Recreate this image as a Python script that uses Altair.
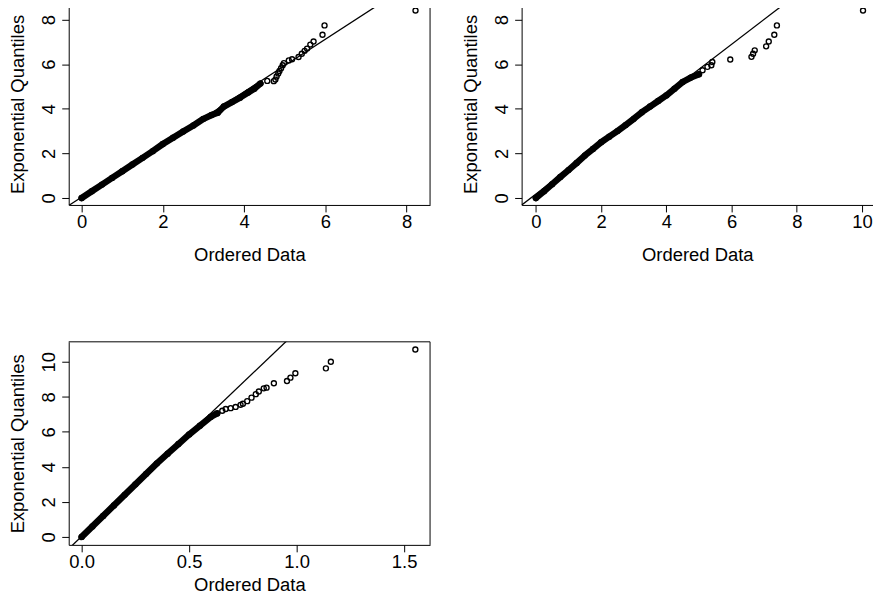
import altair as alt
import pandas as pd

# ---------------- data ----------------
# Panel 1 (top-left): dense part of the QQ band and the sparse upper tail
p1_band_x = [0.0, 0.25, 0.5, 0.75, 1.0, 1.25, 1.5, 1.75, 2.0, 2.25, 2.5, 2.75, 3.0, 3.2, 3.35, 3.5, 3.7, 3.9, 4.1, 4.25, 4.4]
p1_band_y = [0.0, 0.3, 0.6, 0.9, 1.2, 1.5, 1.8, 2.1, 2.42, 2.7, 2.98, 3.25, 3.55, 3.72, 3.82, 4.1, 4.3, 4.5, 4.73, 4.9, 5.13]
p1_tail_x = [4.57, 4.73, 4.77, 4.80, 4.84, 4.87, 4.91, 4.95, 4.98, 5.10, 5.18, 5.34, 5.42, 5.49, 5.55, 5.63, 5.71, 5.93, 5.98, 8.22]
p1_tail_y = [5.25, 5.24, 5.31, 5.45, 5.58, 5.70, 5.82, 5.95, 6.05, 6.17, 6.22, 6.32, 6.47, 6.60, 6.70, 6.88, 7.02, 7.32, 7.74, 8.41]
p1_line = [0.04, 1.18]  # intercept, slope of the reference line

# Panel 2 (top-right)
p2_band_x = [0.0, 0.25, 0.5, 0.75, 1.0, 1.25, 1.5, 1.75, 2.0, 2.25, 2.5, 2.75, 3.0, 3.25, 3.5, 3.75, 4.0, 4.25, 4.5, 4.75, 5.0]
p2_band_y = [0.0, 0.3, 0.62, 0.94, 1.25, 1.57, 1.9, 2.2, 2.5, 2.75, 3.0, 3.27, 3.55, 3.85, 4.1, 4.35, 4.6, 4.9, 5.2, 5.4, 5.55]
p2_tail_x = [5.11, 5.26, 5.38, 5.41, 5.96, 6.61, 6.66, 6.71, 7.06, 7.14, 7.31, 7.39, 10.03]
p2_tail_y = [5.73, 5.88, 5.95, 6.10, 6.21, 6.33, 6.47, 6.62, 6.80, 7.02, 7.32, 7.74, 8.41]
p2_line = [0.17, 1.12]

# Panel 3 (bottom-left)
p3_band_x = [0.0, 0.05, 0.1, 0.15, 0.2, 0.25, 0.3, 0.35, 0.4, 0.45, 0.5, 0.55, 0.6, 0.63]
p3_band_y = [0.0, 0.6, 1.2, 1.8, 2.4, 3.0, 3.6, 4.2, 4.75, 5.3, 5.85, 6.35, 6.85, 7.05]
p3_tail_x = [0.654, 0.67, 0.693, 0.716, 0.739, 0.75, 0.77, 0.79, 0.81, 0.824, 0.847, 0.86, 0.894, 0.955, 0.971, 0.994, 1.136, 1.159, 1.552]
p3_tail_y = [7.2, 7.3, 7.35, 7.42, 7.54, 7.6, 7.75, 7.95, 8.15, 8.30, 8.48, 8.52, 8.77, 8.90, 9.09, 9.34, 9.62, 10.0, 10.70]
p3_line = [0.03, 11.7]

x_title = "Ordered Data"
y_title = "Exponential Quantiles"

FONT = "Liberation Sans"
FS = 18.5


def panel(band_x, band_y, tail_x, tail_y, ab, xdom, ydom, xticks, yticks, xfmt,
          width, height, right_border=True, title_y=None, xtitle_y=56):
    band = pd.DataFrame({"x": band_x, "y": band_y})
    pts = pd.DataFrame({"x": band_x + tail_x, "y": band_y + tail_y})
    a, b = ab
    ldf = pd.DataFrame({"x": xdom, "y": [a + b * xdom[0], a + b * xdom[1]]})

    xs = alt.Scale(domain=xdom, nice=False, zero=False)
    ys = alt.Scale(domain=ydom, nice=False, zero=False)
    xax = alt.Axis(values=xticks, format=xfmt, title=x_title, grid=False,
                   tickSize=7, tickColor="black", tickWidth=1,
                   domain=True, domainColor="black", domainWidth=1,
                   labelFont=FONT, labelFontSize=FS, labelColor="black",
                   labelBaseline="alphabetic", labelPadding=16, labelFlush=False,
                   titleFont=FONT, titleFontSize=FS, titleFontWeight="normal",
                   titleColor="black", titleBaseline="alphabetic", titleY=xtitle_y)
    ykw = dict(values=yticks, format="d", title=y_title, grid=False,
               tickSize=7, tickColor="black", tickWidth=1,
               domain=True, domainColor="black", domainWidth=1,
               labelFont=FONT, labelFontSize=FS, labelColor="black",
               labelAngle=270, labelAlign="center", labelBaseline="alphabetic",
               labelPadding=7, labelFlush=False,
               titleFont=FONT, titleFontSize=FS, titleFontWeight="normal",
               titleColor="black", titleAngle=270, titleAlign="center",
               titleBaseline="alphabetic", titleX=-45.5)
    if title_y is not None:
        ykw["titleY"] = title_y
    yax = alt.Axis(**ykw)
    X = alt.X("x:Q", scale=xs, axis=xax)
    Y = alt.Y("y:Q", scale=ys, axis=yax)

    band_l = alt.Chart(band).mark_line(color="black", strokeWidth=6.5,
                                       strokeCap="round", strokeJoin="round").encode(x=X, y=Y)
    pts_l = alt.Chart(pts).mark_point(shape="circle", filled=False, size=25,
                                      strokeWidth=1.4, color="black", opacity=1).encode(x=X, y=Y)
    line_l = alt.Chart(ldf).mark_line(color="black", strokeWidth=1.3, clip=True).encode(x=X, y=Y)

    one = pd.DataFrame({"d": [0]})
    top = alt.Chart(one).mark_rule(color="black", strokeWidth=1).encode(
        x=alt.value(0), x2=alt.value("width"), y=alt.value(0))
    layers = [band_l, pts_l, line_l, top]
    if right_border:
        right = alt.Chart(one).mark_rule(color="black", strokeWidth=1).encode(
            x=alt.value("width"), y=alt.value(0), y2=alt.value("height"))
        layers.append(right)
    return alt.layer(*layers).properties(width=width, height=height)


c1 = panel(p1_band_x, p1_band_y, p1_tail_x, p1_tail_y, p1_line,
           [-0.3186, 8.578], [-0.3125, 8.571], [0, 2, 4, 6, 8], [0, 2, 4, 6, 8], "d",
           363, 199, title_y=97.5)
c2 = panel(p2_band_x, p2_band_y, p2_tail_x, p2_tail_y, p2_line,
           [-0.4364, 10.336], [-0.3125, 8.571], [0, 2, 4, 6, 8, 10], [0, 2, 4, 6, 8], "d",
           353, 199, right_border=False, title_y=97.5)
c3 = panel(p3_band_x, p3_band_y, p3_tail_x, p3_tail_y, p3_line,
           [-0.0602, 1.6204], [-0.4545, 11.136], [0, 0.5, 1.0, 1.5], [0, 2, 4, 6, 8, 10], ".1f",
           363, 204, xtitle_y=46)

row1 = alt.hconcat(c1, c2, spacing=30)
chart = alt.vconcat(row1, c3, spacing=76.5).configure_view(stroke=None).properties(
    padding={"left": 0, "top": -4.5, "right": -1, "bottom": 0}, background="white")

chart.save("out.html", embed_options={"renderer": "svg", "actions": False})
